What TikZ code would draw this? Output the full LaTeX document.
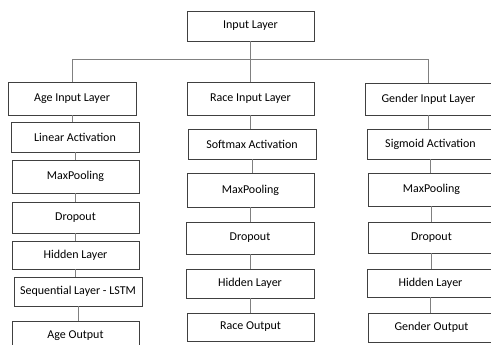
\documentclass[tikz,border=0pt]{standalone}
\usepackage{fontspec}
\setmainfont{Carlito}
\begin{document}
\begin{tikzpicture}[x=1pt,y=-1pt,
  box/.style={draw=black!75,line width=0.9pt,inner sep=0pt,fill=white,
    font=\fontsize{12}{14}\selectfont,text=black},
  conn/.style={draw=black!50,line width=0.9pt}]
\useasboundingbox (0,0) rectangle (491,345);
\clip (0,0) rectangle (491,345);
\newcommand\bx[6]{\node[box,minimum width=#4pt,minimum height=#5pt] (#1) at (#2,#3) {#6};}
\bx{input}{250.5}{26}{127}{30}{Input Layer}
% age
\bx{ageIn}{72}{98.5}{128}{33}{Age Input Layer}
\bx{ageAct}{75}{137}{128}{30}{Linear Activation}
\bx{ageMax}{75.5}{176.5}{127}{33}{MaxPooling}
\bx{ageDrop}{75.5}{217.5}{127}{31}{Dropout}
\bx{ageHid}{75.5}{255}{127}{28}{Hidden Layer}
\bx{ageSeq}{78}{291.5}{128}{29}{Sequential Layer - LSTM}
\bx{ageOut}{75.5}{335.5}{127}{29}{Age Output}
% race
\bx{raceIn}{250.5}{98.5}{127}{33}{Race Input Layer}
\bx{raceAct}{252}{144}{128}{30}{Softmax Activation}
\bx{raceMax}{250.5}{190}{127}{34}{MaxPooling}
\bx{raceDrop}{250}{238}{128}{32}{Dropout}
\bx{raceHid}{250}{283.5}{128}{29}{Hidden Layer}
\bx{raceOut}{250.5}{327}{127}{28}{Race Output}
% gender
\bx{genIn}{428.5}{99}{127}{32}{Gender Input Layer}
\bx{genAct}{430.5}{144}{127}{30}{Sigmoid Activation}
\bx{genMax}{431.5}{189.5}{127}{33}{MaxPooling}
\bx{genDrop}{431.5}{237.5}{127}{31}{Dropout}
\bx{genHid}{430.5}{283}{127}{28}{Hidden Layer}
\bx{genOut}{431.5}{327.5}{127}{29}{Gender Output}
% bus
\coordinate (bus) at (0,59);
\draw[conn] (input.south) -- (raceIn.north);
\draw[conn] (ageIn.north) -- (ageIn.north |- bus) -- (genIn.north |- bus) -- (genIn.north);
% chains
\foreach \a/\b in {ageIn/ageAct,ageAct/ageMax,ageMax/ageDrop,ageDrop/ageHid,ageHid/ageSeq,ageSeq/ageOut,
  raceIn/raceAct,raceAct/raceMax,raceMax/raceDrop,raceDrop/raceHid,raceHid/raceOut,
  genIn/genAct,genAct/genMax,genMax/genDrop,genDrop/genHid,genHid/genOut}
  \draw[conn] (\a.south) -- (\a.south |- \b.north);
\end{tikzpicture}
\end{document}
